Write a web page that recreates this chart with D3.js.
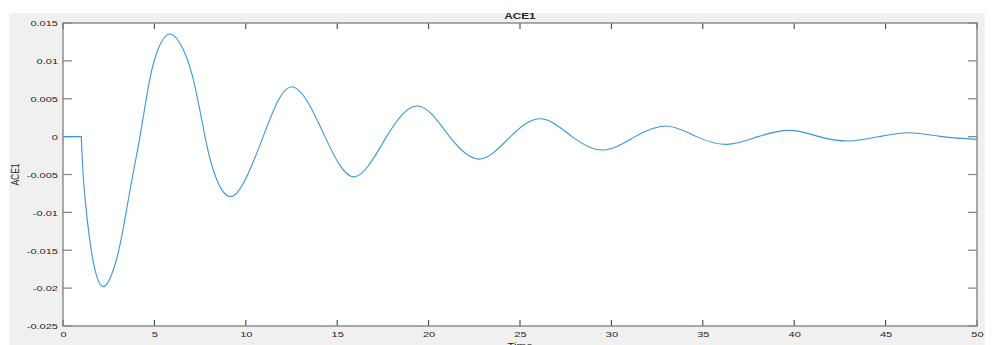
<!DOCTYPE html>
<html>
<head>
<meta charset="utf-8">
<script src="https://cdn.jsdelivr.net/npm/d3@7"></script>
<style>
  body { margin: 0; background: #fff; }
  text { font-family: "Liberation Sans", Arial, sans-serif; fill: #262626; }
</style>
</head>
<body>
<div id="chart"></div>
<script>
// values (extrema, zero crossings, a few slopes)
const time = [0, 1, 1.15, 1.44, 1.75, 2.2, 2.75, 3.21, 3.7, 4.21, 4.67, 5.12, 5.85, 6.67, 7.22, 7.77,
  8.22, 9.32, 10.95, 12.55, 14.33, 15.97, 17.7, 19.44, 21.15, 22.81, 24.48, 26.15, 27.85, 29.56,
  31.29, 33.02, 34.66, 36.3, 38.03, 39.77, 41.37, 42.96, 44.65, 46.33, 48.1, 50];
const ace1 = [0, 0, -0.0066, -0.0132, -0.0176, -0.0198, -0.0176, -0.0132, -0.0066, 0, 0.0066, 0.011,
  0.01354, 0.011, 0.0066, 0, -0.0044, -0.0078, 0, 0.00658, 0, -0.0053, 0, 0.00404, 0, -0.00296, 0,
  0.00235, 0, -0.00177, 0, 0.0014, 0, -0.00102, 0, 0.00083, 0, -0.00058, 0, 0.00051, 0, -0.00036];
const xTicks = [0, 5, 10, 15, 20, 25, 30, 35, 40, 45, 50];
const yTicks = [-0.025, -0.02, -0.015, -0.01, -0.005, 0, 0.005, 0.01, 0.015];

const width = 995, height = 345;
const margin = { top: 23, right: 18, bottom: 19, left: 63 };
const sx = 1.38; // the picture is stretched sideways

const svg = d3.select("#chart").append("svg")
  .attr("width", width)
  .attr("height", height);

svg.append("rect")
  .attr("x", 9).attr("y", 13)
  .attr("width", 976).attr("height", height - 13)
  .attr("fill", "#f0f0f0");

const x = d3.scaleLinear().domain([0, 50]).range([margin.left, width - margin.right]);
const y = d3.scaleLinear().domain([-0.025, 0.015]).range([height - margin.bottom, margin.top]);

svg.append("rect")
  .attr("x", x(0)).attr("y", y(0.015))
  .attr("width", x(50) - x(0)).attr("height", y(-0.025) - y(0.015))
  .attr("fill", "#fff");

const fmt = d => d === 0 ? "0" : String(+d.toFixed(3));

// bottom axis with labels
const gx = svg.append("g")
  .attr("transform", `translate(0,${y(-0.025)})`)
  .call(d3.axisBottom(x).tickValues(xTicks).tickSize(0).tickPadding(5).tickFormat(fmt));
gx.select(".domain").remove();
gx.selectAll("text")
  .attr("font-size", 8)
  .attr("transform", `scale(${sx},1)`);

// left axis with labels
const gy = svg.append("g")
  .attr("transform", `translate(${x(0)},0)`)
  .call(d3.axisLeft(y).tickValues(yTicks).tickSize(0).tickPadding(5).tickFormat(fmt));
gy.select(".domain").remove();
gy.selectAll("text")
  .attr("font-size", 8)
  .attr("dy", "0.35em")
  .attr("x", -5 / sx)
  .attr("transform", `scale(${sx},1)`);

// inward ticks on all four sides
const ticks = svg.append("g");
ticks.selectAll(".xb").data(xTicks).join("line")
  .attr("x1", d => x(d)).attr("x2", d => x(d))
  .attr("y1", y(-0.025)).attr("y2", y(-0.025) - 6)
  .attr("stroke", "#333");
ticks.selectAll(".xt").data(xTicks).join("line")
  .attr("x1", d => x(d)).attr("x2", d => x(d))
  .attr("y1", y(0.015)).attr("y2", y(0.015) + 6)
  .attr("stroke", "#333");
ticks.selectAll(".yl").data(yTicks).join("line")
  .attr("x1", x(0)).attr("x2", x(0) + 9)
  .attr("y1", d => y(d)).attr("y2", d => y(d))
  .attr("stroke", "#888").attr("stroke-width", 1.3);
ticks.selectAll(".yr").data(yTicks).join("line")
  .attr("x1", x(50)).attr("x2", x(50) - 9)
  .attr("y1", d => y(d)).attr("y2", d => y(d))
  .attr("stroke", "#888").attr("stroke-width", 1.3);

// curve: flat part straight, the response smooth
const pts = time.map((t, i) => [t, ace1[i]]);
const flat = d3.line().x(d => x(d[0])).y(d => y(d[1]));
const smooth = d3.line().x(d => x(d[0])).y(d => y(d[1])).curve(d3.curveNatural);

svg.append("path")
  .attr("fill", "none")
  .attr("stroke", "#3d96d8")
  .attr("stroke-width", 1.1)
  .attr("d", flat(pts.slice(0, 2)) + smooth(pts.slice(1)).replace(/^M/, "L"));

// box
svg.append("rect")
  .attr("x", x(0)).attr("y", y(0.015))
  .attr("width", x(50) - x(0)).attr("height", y(-0.025) - y(0.015))
  .attr("fill", "none")
  .attr("stroke", "#868686")
  .attr("stroke-width", 1.4);

// title and axis labels
svg.append("text")
  .attr("transform", `translate(${(x(0) + x(50)) / 2},19) scale(${sx},1)`)
  .attr("text-anchor", "middle")
  .attr("font-size", 8.5)
  .attr("font-weight", "bold")
  .attr("fill", "#000")
  .text("ACE1");

svg.append("text")
  .attr("transform", `translate(19,${(y(0.015) + y(-0.025)) / 2}) scale(${sx},1) rotate(-90)`)
  .attr("text-anchor", "middle")
  .attr("font-size", 8.5)
  .text("ACE1");

svg.append("text")
  .attr("transform", `translate(${(x(0) + x(50)) / 2},348.5) scale(${sx},1)`)
  .attr("text-anchor", "middle")
  .attr("font-size", 8.5)
  .text("Time");
</script>
</body>
</html>
